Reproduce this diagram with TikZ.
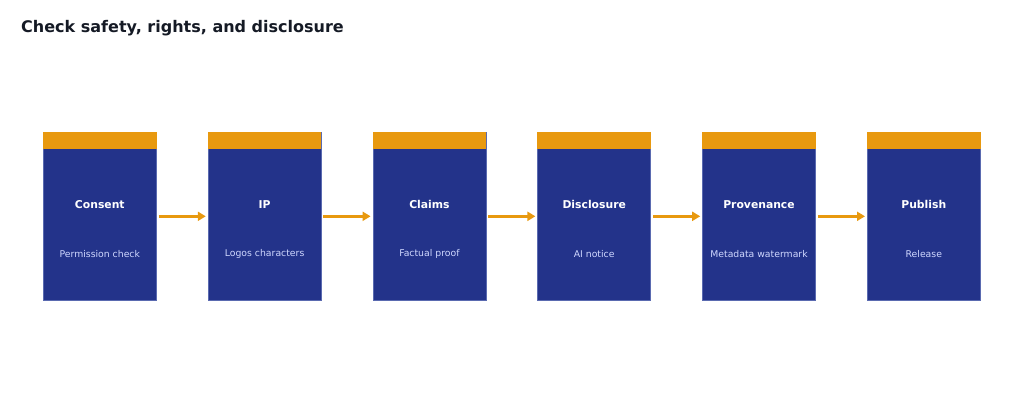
\documentclass[tikz,border=0pt]{standalone}
\usepackage{fontspec}
\setmainfont{DejaVu Sans}
\usetikzlibrary{arrows.meta}
\definecolor{stepblue}{HTML}{23338A}
\definecolor{steprim}{HTML}{5A6AB0}
\definecolor{barorange}{HTML}{E8990F}
\definecolor{subtext}{HTML}{D0D8FF}
\definecolor{titleink}{HTML}{151A25}
\tikzset{
  stage/.style={draw=steprim,line width=0.6pt,fill=stepblue,minimum width=113pt,
    minimum height=168pt,inner sep=0pt,anchor=north west},
  bar/.style={fill=barorange,minimum width=113.6pt,minimum height=17pt,inner sep=0pt,anchor=north west},
  head/.style={text=white,font=\bfseries\fontsize{10.8}{13}\selectfont},
  sub/.style={text=subtext,font=\fontsize{9.3}{11}\selectfont},
  flow/.style={draw=barorange,line width=2.6pt,-{Triangle[length=8pt,width=9pt]}}
}
\begin{document}
\begin{tikzpicture}[x=1pt,y=-1pt]
\useasboundingbox (0,0) rectangle (1024,405);
\node[anchor=west,text=titleink,font=\bfseries\fontsize{16}{19}\selectfont,inner sep=0pt] (title) at (21,28) {Check safety, rights, and disclosure};
\foreach \i/\hd/\sb in {1/Consent/Permission check,2/IP/Logos characters,3/Claims/Factual proof,
  4/Disclosure/AI notice,5/Provenance/Metadata watermark,6/Publish/Release}{
  \pgfmathsetmacro\xl{43+164.8*(\i-1)}
  \node[stage] (box\i) at (\xl,132) {};
  \node[bar] (bar\i) at (\xl-0.3,132) {};
  \node[head] (head\i) at ([yshift=12pt]box\i.center) {\hd};
  \node[sub] (sub\i) at ([yshift=-38pt]box\i.center) {\sb};
}
\foreach \i [evaluate=\i as \j using int(\i+1)] in {1,...,5}
  \draw[flow] ([xshift=2pt]box\i.east) -- ([xshift=-2pt]box\j.west);
\end{tikzpicture}
\end{document}
